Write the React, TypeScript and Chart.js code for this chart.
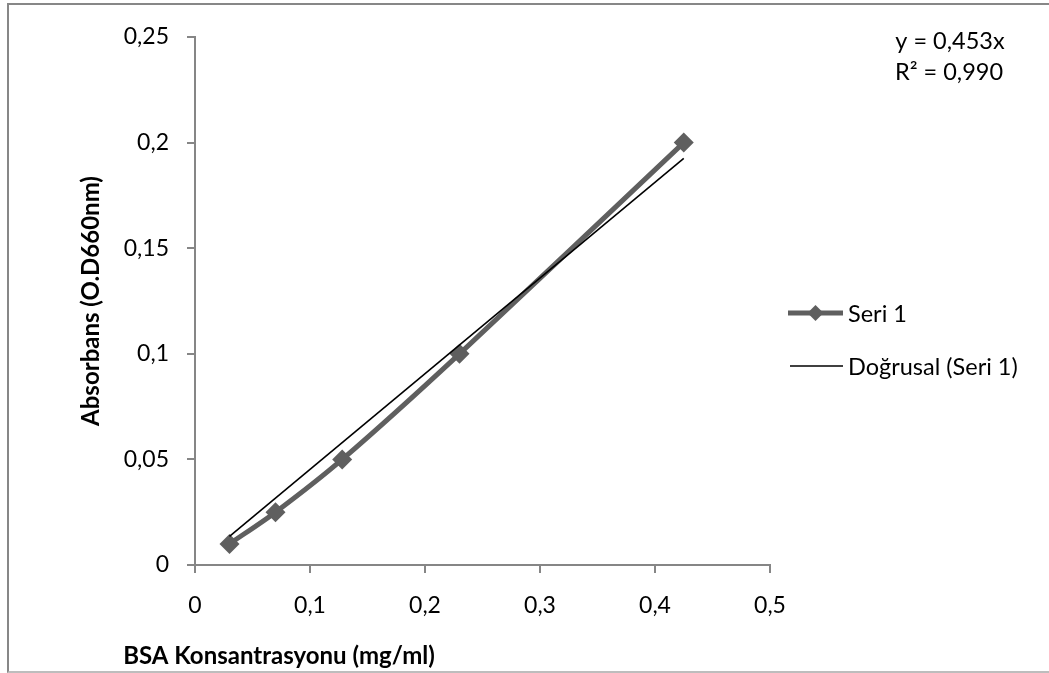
import React, { useEffect, useRef } from "react";
import { Chart, registerables } from "chart.js";

Chart.register(...registerables);

const concentrations = [0.03, 0.07, 0.128, 0.23, 0.425];
const absorbances = [0.01, 0.025, 0.05, 0.1, 0.2];
const trendSlope = 0.453;
const equationLines = ["y = 0,453x", "R² = 0,990"];
const seriesLabel = "Seri 1";
const trendLabel = "Doğrusal (Seri 1)";
const xTitle = "BSA Konsantrasyonu (mg/ml)";
const yTitle = "Absorbans (O.D660nm)";

const FONT = "Lato, 'Open Sans', sans-serif";
const SERIES_COLOR = "#5f5f5f";
const AXIS_COLOR = "#868686";

const fmt = (v: number) => String(Number(v.toFixed(3))).replace(".", ",");

const overlayPlugin = {
  id: "overlay",
  afterDraw(chart: any) {
    const ctx = chart.ctx;
    ctx.save();
    // axis titles
    ctx.fillStyle = "#000";
    ctx.font = `bold 24px ${FONT}`;
    ctx.textAlign = "center";
    ctx.textBaseline = "middle";
    ctx.fillText(xTitle, 279, 656);
    ctx.save();
    ctx.translate(91, 301);
    ctx.rotate(-Math.PI / 2);
    ctx.fillText(yTitle, 0, 0);
    ctx.restore();

    // equation
    ctx.font = `23.5px ${FONT}`;
    ctx.fillText(equationLines[0], 950, 41);
    ctx.fillText(equationLines[1], 949, 72);

    // legend
    const ds0 = chart.data.datasets[0];
    const ds1 = chart.data.datasets[1];
    const x0 = 788, x1 = 843;
    let y = 313;
    ctx.strokeStyle = ds0.borderColor;
    ctx.lineWidth = ds0.borderWidth;
    ctx.beginPath();
    ctx.moveTo(x0, y);
    ctx.lineTo(x1, y);
    ctx.stroke();
    const cx = (x0 + x1) / 2, r = 8;
    ctx.fillStyle = ds0.pointBackgroundColor;
    ctx.beginPath();
    ctx.moveTo(cx, y - r);
    ctx.lineTo(cx + r, y);
    ctx.lineTo(cx, y + r);
    ctx.lineTo(cx - r, y);
    ctx.closePath();
    ctx.fill();
    ctx.fillStyle = "#000";
    ctx.textAlign = "left";
    ctx.fillText(ds0.label, 848, y + 1);
    y = 366;
    ctx.strokeStyle = ds1.borderColor;
    ctx.lineWidth = ds1.borderWidth;
    ctx.beginPath();
    ctx.moveTo(x0 + 2, y);
    ctx.lineTo(x1, y);
    ctx.stroke();
    ctx.fillText(ds1.label, 848, y + 1);
    ctx.restore();
  },
};

export default function App() {
  const canvasRef = useRef<HTMLCanvasElement | null>(null);

  useEffect(() => {
    if (!canvasRef.current) return;
    const seriesData = concentrations.map((x, i) => ({ x, y: absorbances[i] }));
    const xMin = Math.min(...concentrations);
    const xMax = Math.max(...concentrations);
    const trendData = [
      { x: xMin, y: trendSlope * xMin },
      { x: xMax, y: trendSlope * xMax },
    ];
    const chart = new Chart(canvasRef.current, {
      type: "scatter",
      data: {
        datasets: [
          {
            label: seriesLabel,
            data: seriesData,
            showLine: true,
            borderColor: SERIES_COLOR,
            backgroundColor: SERIES_COLOR,
            pointBackgroundColor: SERIES_COLOR,
            pointBorderColor: SERIES_COLOR,
            borderWidth: 5,
            pointStyle: "rectRot",
            pointRadius: 10,
            pointBorderWidth: 0,
            tension: 0.3,
            order: 1,
          },
          {
            label: trendLabel,
            data: trendData,
            showLine: true,
            borderColor: "#000000",
            backgroundColor: "#000000",
            borderWidth: 1.6,
            pointRadius: 0,
            tension: 0,
            order: 0,
          },
        ],
      },
      options: {
        animation: false,
        responsive: false,
        layout: { padding: { left: 0, top: 37, right: 279, bottom: 0 } },
        plugins: {
          legend: { display: false },
          tooltip: { enabled: false },
          title: { display: false },
        },
        scales: {
          x: {
            type: "linear",
            min: 0,
            max: 0.5,
            ticks: {
              stepSize: 0.1,
              color: "#000",
              font: { family: FONT, size: 23 },
              padding: 19,
              callback: (v: any) => fmt(Number(v)),
            },
            grid: { drawOnChartArea: false, drawTicks: true, tickLength: 8, color: AXIS_COLOR, lineWidth: 2 },
            border: { display: true, color: AXIS_COLOR, width: 2 },
            afterFit: (s: any) => {
              s.height = 673 - 565;
            },
          },
          y: {
            type: "linear",
            min: 0,
            max: 0.25,
            ticks: {
              stepSize: 0.05,
              color: "#000",
              font: { family: FONT, size: 23 },
              padding: 18,
              callback: (v: any) => fmt(Number(v)),
            },
            grid: { drawOnChartArea: false, drawTicks: true, tickLength: 8, color: AXIS_COLOR, lineWidth: 2 },
            border: { display: true, color: AXIS_COLOR, width: 2 },
            afterFit: (s: any) => {
              s.width = 195;
            },
          },
        },
      },
      plugins: [overlayPlugin],
    } as any);
    return () => chart.destroy();
  }, []);

  return (
    <div style={{ position: "absolute", left: 0, top: 0, width: 1049, height: 673, overflow: "hidden", background: "#fff" }}>
      <div
        style={{
          position: "absolute",
          left: 7,
          top: 3,
          width: 1060,
          height: 666,
          borderLeft: "2px solid #878787",
          borderTop: "2px solid #878787",
          borderBottom: "2px solid #bdbdbd",
        }}
      />
      <canvas ref={canvasRef} width={1049} height={673} style={{ position: "absolute", left: 0, top: 0, width: 1049, height: 673 }} />
    </div>
  );
}
